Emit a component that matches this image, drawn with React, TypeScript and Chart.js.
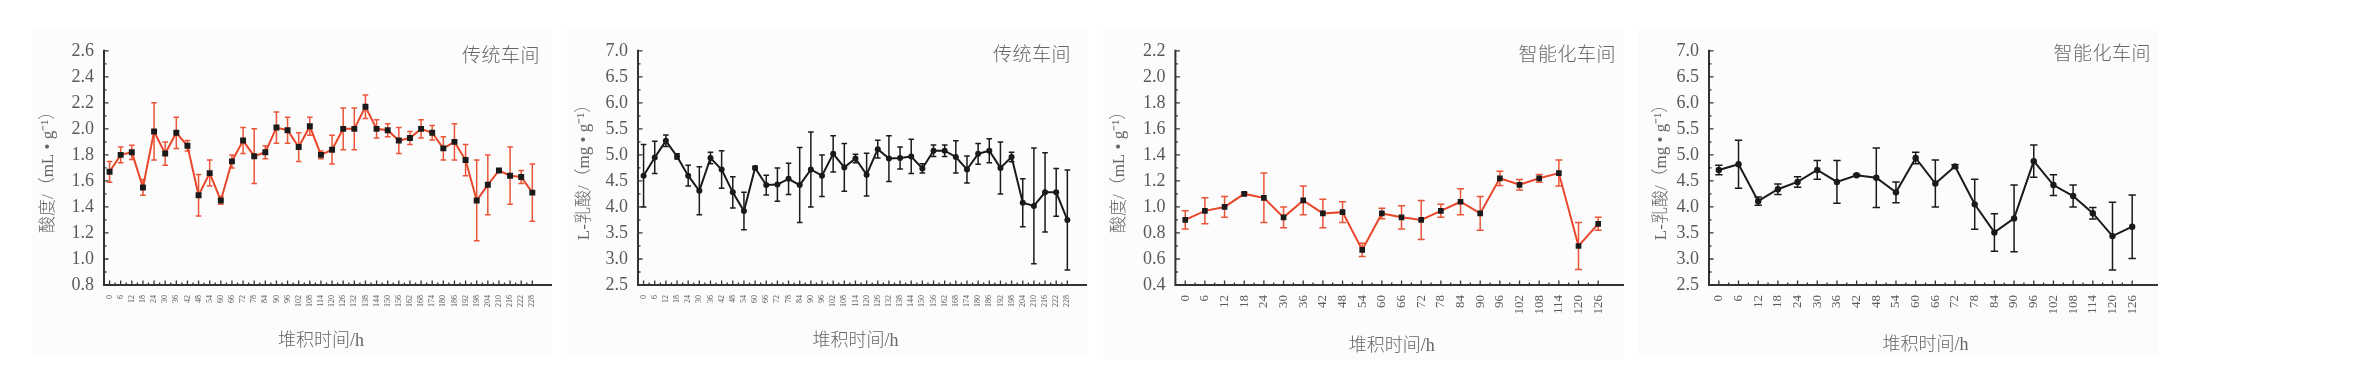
import React, { useEffect, useRef } from "react";
import { Chart, registerables } from "chart.js";
Chart.register(...registerables);

// ---------- data ----------
const hoursTrad = ["0","6","12","18","24","30","36","42","48","54","60","66","72","78","84","90","96","102","108","114","120","126","132","138","144","150","156","162","168","174","180","186","192","198","204","210","216","222","228"];
const acidTrad = [1.67,1.80,1.82,1.55,1.98,1.81,1.97,1.87,1.49,1.66,1.45,1.75,1.91,1.79,1.82,2.01,1.99,1.86,2.02,1.80,1.84,2.00,2.00,2.17,2.00,1.99,1.91,1.93,2.00,1.97,1.85,1.90,1.76,1.45,1.57,1.68,1.64,1.63,1.51];
const acidTradErr = [0.08,0.06,0.055,0.06,0.22,0.09,0.12,0.04,0.16,0.10,0.03,0.05,0.10,0.21,0.05,0.12,0.10,0.11,0.07,0.03,0.11,0.16,0.16,0.09,0.07,0.05,0.10,0.05,0.07,0.055,0.09,0.14,0.12,0.31,0.23,0.01,0.22,0.05,0.22];
const lacticTrad = [4.60,4.95,5.27,4.97,4.60,4.31,4.94,4.72,4.28,3.92,4.75,4.42,4.43,4.54,4.42,4.72,4.60,5.02,4.76,4.93,4.62,5.11,4.93,4.94,4.97,4.74,5.08,5.08,4.96,4.72,5.02,5.08,4.75,4.96,4.08,4.02,4.28,4.28,3.75];
const lacticTradErr = [0.60,0.31,0.11,0.05,0.20,0.46,0.11,0.36,0.30,0.36,0.03,0.19,0.32,0.30,0.72,0.72,0.40,0.35,0.46,0.08,0.41,0.17,0.44,0.21,0.33,0.09,0.11,0.11,0.31,0.26,0.20,0.23,0.50,0.09,0.46,1.11,0.76,0.46,0.96];

const hoursSmart = ["0","6","12","18","24","30","36","42","48","54","60","66","72","78","84","90","96","102","108","114","120","126"];
const acidSmart = [0.90,0.97,1.00,1.10,1.07,0.92,1.05,0.95,0.96,0.67,0.95,0.92,0.90,0.97,1.04,0.95,1.22,1.17,1.22,1.26,0.70,0.87];
const acidSmartErr = [0.07,0.10,0.08,0.01,0.19,0.08,0.11,0.11,0.08,0.05,0.04,0.09,0.15,0.05,0.10,0.13,0.055,0.04,0.03,0.10,0.18,0.05];
const lacticSmart = [4.71,4.82,4.11,4.34,4.48,4.71,4.48,4.61,4.56,4.28,4.94,4.45,4.78,4.05,3.51,3.78,4.88,4.42,4.21,3.88,3.44,3.62];
const lacticSmartErr = [0.09,0.46,0.08,0.10,0.10,0.18,0.41,0.02,0.57,0.20,0.11,0.45,0.03,0.48,0.36,0.64,0.31,0.20,0.21,0.11,0.65,0.61];

const xTitle = "堆积时间/h";
const acidTitle = "酸度/（mL • g⁻¹）";
const lacticTitle = "L-乳酸/（mg • g⁻¹）";
const tradTitle = "传统车间";
const smartTitle = "智能化车间";

// ---------- styling ----------
const RED = "#e8472c";
const RED_ERR = "#ea5538";
const BLACK = "#1a1a1a";
const AXIS = "#333333";
const TEXT = "#5a5a5a";
const TITLE_TEXT = "#666666";
const FAMILY = "'Liberation Serif', 'Noto Sans CJK SC', serif";

type Panel = {
  left: number; top: number; width: number; height: number;
  labels: string[]; values: number[]; errors: number[];
  yMin: number; yMax: number; yStep: number;
  yTitle: string; title: string; titleRight: number; titleTop: number;
  lineColor: string; errColor: string; pointStyle: string; pointRadius: number;
  yWidth: number; areaTop: number; padRight: number; xHeight: number;
  xTickSize: number; yTitlePad: number; xTitlePad: number; cap: number;
};

const panels: Panel[] = [
  {
    left: 32, top: 30, width: 520, height: 325,
    labels: hoursTrad, values: acidTrad, errors: acidTradErr,
    yMin: 0.8, yMax: 2.6, yStep: 0.2, yTitle: acidTitle, title: tradTitle, titleRight: 12, titleTop: 13,
    lineColor: RED, errColor: RED_ERR, pointStyle: "rect", pointRadius: 4.2,
    yWidth: 72, areaTop: 10.7, padRight: 5.5, xHeight: 70, xTickSize: 8, yTitlePad: 6.4, xTitlePad: 3, cap: 2.8,
  },
  {
    left: 567, top: 30, width: 520, height: 325,
    labels: hoursTrad, values: lacticTrad, errors: lacticTradErr,
    yMin: 2.5, yMax: 7.0, yStep: 0.5, yTitle: lacticTitle, title: tradTitle, titleRight: 16, titleTop: 12,
    lineColor: BLACK, errColor: BLACK, pointStyle: "circle", pointRadius: 3,
    yWidth: 71, areaTop: 10.7, padRight: 3, xHeight: 70, xTickSize: 8, yTitlePad: 7.4, xTitlePad: 2.5, cap: 2.8,
  },
  {
    left: 1103, top: 30, width: 521, height: 330,
    labels: hoursSmart, values: acidSmart, errors: acidSmartErr,
    yMin: 0.4, yMax: 2.2, yStep: 0.2, yTitle: acidTitle, title: smartTitle, titleRight: 8, titleTop: 12,
    lineColor: RED, errColor: RED_ERR, pointStyle: "rect", pointRadius: 4,
    yWidth: 72.4, areaTop: 10.7, padRight: 10, xHeight: 75, xTickSize: 13, yTitlePad: 6.6, xTitlePad: 2.5, cap: 3.5,
  },
  {
    left: 1638, top: 30, width: 520, height: 327,
    labels: hoursSmart, values: lacticSmart, errors: lacticSmartErr,
    yMin: 2.5, yMax: 7.0, yStep: 0.5, yTitle: lacticTitle, title: smartTitle, titleRight: 7, titleTop: 11,
    lineColor: BLACK, errColor: BLACK, pointStyle: "circle", pointRadius: 3.2,
    yWidth: 71, areaTop: 10.7, padRight: 10, xHeight: 72, xTickSize: 13, yTitlePad: 13.3, xTitlePad: 1.2, cap: 3.7,
  },
];

function PanelChart({ p }: { p: Panel }) {
  const ref = useRef<HTMLCanvasElement | null>(null);
  useEffect(() => {
    const canvas = ref.current;
    if (!canvas) return;
    const plugin = {
      id: "axesErr",
      beforeDatasetsDraw(chart: any) {
        const { ctx, chartArea, scales } = chart;
        const x = scales.x;
        const y = scales.y;
        ctx.save();
        // error bars
        ctx.strokeStyle = p.errColor;
        ctx.lineWidth = 1.5;
        p.values.forEach((v, i) => {
          const xp = x.getPixelForValue(i);
          const yt = y.getPixelForValue(v + p.errors[i]);
          const yb = y.getPixelForValue(v - p.errors[i]);
          ctx.beginPath();
          ctx.moveTo(xp, yt); ctx.lineTo(xp, yb);
          ctx.moveTo(xp - p.cap, yt); ctx.lineTo(xp + p.cap, yt);
          ctx.moveTo(xp - p.cap, yb); ctx.lineTo(xp + p.cap, yb);
          ctx.stroke();
        });
        // axes
        ctx.strokeStyle = AXIS;
        ctx.lineWidth = 2;
        ctx.beginPath();
        ctx.moveTo(chartArea.left, chartArea.top - 1);
        ctx.lineTo(chartArea.left, chartArea.bottom);
        ctx.lineTo(chart.width, chartArea.bottom);
        ctx.stroke();
        ctx.lineWidth = 1.3;
        ctx.beginPath();
        const yt = y.ticks.map((t: any) => t.value);
        yt.forEach((val: number, i: number) => {
          const yp = y.getPixelForValue(val);
          ctx.moveTo(chartArea.left, yp); ctx.lineTo(chartArea.left + 4.5, yp);
          if (i < yt.length - 1) {
            const ym = y.getPixelForValue((val + yt[i + 1]) / 2);
            ctx.moveTo(chartArea.left, ym); ctx.lineTo(chartArea.left + 2.5, ym);
          }
        });
        p.labels.forEach((_, i) => {
          const xp = x.getPixelForValue(i);
          ctx.moveTo(xp, chartArea.bottom); ctx.lineTo(xp, chartArea.bottom - 4.5);
          if (i < p.labels.length - 1) {
            const xm = (xp + x.getPixelForValue(i + 1)) / 2;
            ctx.moveTo(xm, chartArea.bottom); ctx.lineTo(xm, chartArea.bottom - 2.5);
          }
        });
        ctx.stroke();
        ctx.restore();
      },
    };
    const chart = new Chart(canvas, {
      type: "line",
      data: {
        labels: p.labels,
        datasets: [
          {
            data: p.values,
            borderColor: p.lineColor,
            borderWidth: 2,
            pointStyle: p.pointStyle as any,
            pointRadius: p.pointRadius,
            pointBackgroundColor: BLACK,
            pointBorderColor: BLACK,
            pointBorderWidth: 0,
            tension: 0,
          },
        ],
      },
      options: {
        responsive: false,
        animation: false,
        devicePixelRatio: 1,
        layout: { padding: { left: 0, right: p.padRight, top: p.areaTop, bottom: 0 } },
        plugins: { legend: { display: false }, tooltip: { enabled: false }, title: { display: false } },
        scales: {
          x: {
            type: "category",
            offset: true,
            grid: { display: false, drawTicks: false },
            border: { display: false },
            ticks: {
              autoSkip: false, maxRotation: 90, minRotation: 90, padding: 10,
              color: TEXT, font: { family: FAMILY, size: p.xTickSize },
            },
            title: {
              display: true, text: xTitle, color: TITLE_TEXT,
              font: { family: FAMILY, size: 18, weight: "300" }, padding: { top: 0, bottom: p.xTitlePad },
            },
            afterFit: (s: any) => { s.height = p.xHeight; },
          },
          y: {
            min: p.yMin, max: p.yMax,
            grid: { display: false, drawTicks: false },
            border: { display: false },
            ticks: {
              stepSize: p.yStep, padding: 10, color: TEXT,
              font: { family: FAMILY, size: 18 },
              callback: (v: any) => Number(v).toFixed(1),
            },
            title: {
              display: true, text: p.yTitle, color: TITLE_TEXT,
              font: { family: FAMILY, size: 17, weight: "300" }, padding: { top: p.yTitlePad, bottom: 0 },
            },
            afterFit: (s: any) => { s.width = p.yWidth; },
          },
        },
      },
      plugins: [plugin],
    } as any);
    return () => chart.destroy();
  }, [p]);
  return (
    <div
      style={{
        position: "absolute", left: p.left, top: p.top, width: p.width, height: p.height,
        background: "#fcfcfc",
      }}
    >
      <canvas ref={ref} width={p.width} height={p.height} style={{ display: "block", width: p.width, height: p.height }} />
      <div
        style={{
          position: "absolute", right: p.titleRight, top: p.titleTop,
          fontFamily: "'Noto Sans CJK SC', sans-serif", fontWeight: 300, fontSize: 19, lineHeight: "22px", color: "#666",
          letterSpacing: 0.5,
        }}
      >
        {p.title}
      </div>
    </div>
  );
}

export default function App() {
  return (
    <div style={{ position: "fixed", left: 0, top: 0, width: 2359, height: 378, background: "#ffffff", overflow: "hidden" }}>
      {panels.map((p, i) => (
        <PanelChart key={i} p={p} />
      ))}
    </div>
  );
}
